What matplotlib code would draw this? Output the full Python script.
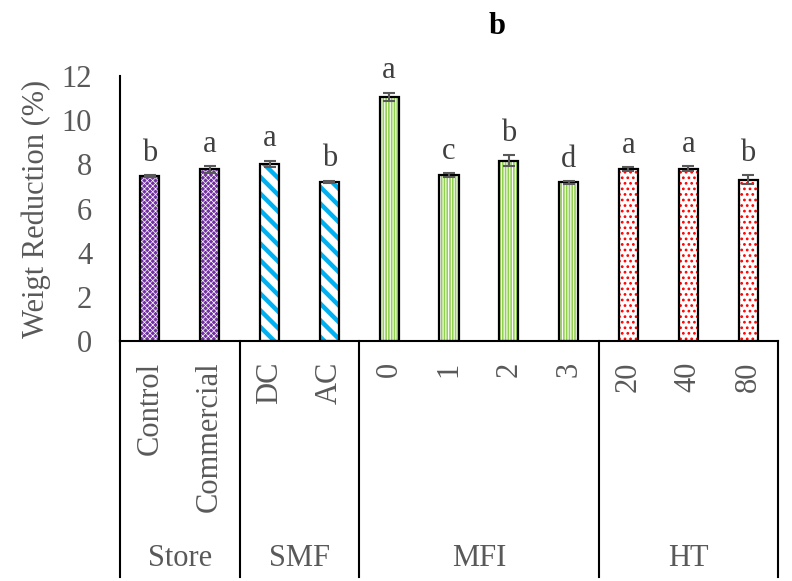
import matplotlib.pyplot as plt
import numpy as np

plt.rcParams['font.family'] = 'Liberation Serif'

# weight reduction per treatment, grouped by factor
groups = ["Store", "SMF", "MFI", "HT"]
group_sizes = [2, 2, 4, 3]
treatments = ["Control", "Commercial", "DC", "AC", "0", "1", "2", "3", "20", "40", "80"]
weight_loss = [7.47, 7.78, 8.02, 7.21, 11.05, 7.51, 8.16, 7.19, 7.78, 7.80, 7.30]
std_err = [0.05, 0.15, 0.15, 0.05, 0.20, 0.08, 0.25, 0.06, 0.08, 0.12, 0.20]
letters = ["b", "a", "a", "b", "a", "c", "b", "d", "a", "a", "b"]

# fill / hatch colour / hatch pattern / hatch width for each group
styles = [
    ("#7030A0", "white", "xxxxxx", 0.5),
    ("white", "#00B0F0", "\\\\", 3.2),
    ("#92D050", "white", "||||||", 0.8),
    ("white", "#FF0000", "...", 1.2),
]

grey = "#595959"
fig = plt.figure(figsize=(7.92, 5.81), dpi=100)
ax = fig.add_axes([120 / 792, 1 - 341 / 581, 658 / 792, 265 / 581])

x = np.arange(len(treatments))
width = 0.32
start = 0
for size, (face, hcol, hatch, hlw) in zip(group_sizes, styles):
    idx = x[start:start + size]
    vals = weight_loss[start:start + size]
    plt.rcParams['hatch.linewidth'] = hlw
    ax.bar(idx, vals, width, color=face, edgecolor=hcol, hatch=hatch, linewidth=0)
    ax.bar(idx, vals, width, color="none", edgecolor="black", linewidth=1.6)
    start += size

ax.errorbar(x, weight_loss, yerr=std_err, fmt="none", ecolor=grey,
            elinewidth=1.5, capsize=4, capthick=1.5)

for xi, v, e, lab in zip(x, weight_loss, std_err, letters):
    ax.text(xi, v + e + 0.65, lab, ha="center", va="baseline", fontsize=22, color="#404040")

ax.set_xlim(-0.5, len(treatments) - 0.5)
ax.set_ylim(0, 12)
ax.set_yticks(range(0, 13, 2))
ax.tick_params(axis="y", length=0, pad=20, labelsize=22, labelcolor=grey)
ax.set_xticks(x)
ax.set_xticklabels(treatments, rotation=90)
ax.tick_params(axis="x", length=0, pad=15, labelsize=22, labelcolor=grey)
ax.set_ylabel("Weigt Reduction (%)", fontsize=22, color=grey, labelpad=8)

for side in ["top", "right"]:
    ax.spines[side].set_visible(False)
ax.spines["left"].set_linewidth(1.5)
ax.spines["bottom"].set_linewidth(1.5)

# group dividers and group names under the axis
trans = ax.get_xaxis_transform()
bounds = np.concatenate([[0], np.cumsum(group_sizes)]) - 0.5
for b in bounds:
    ax.plot([b, b], [0, -0.89], color="black", linewidth=1.5, transform=trans, clip_on=False)
for name, lo, hi in zip(groups, bounds[:-1], bounds[1:]):
    ax.text((lo + hi) / 2, -0.82, name, ha="center", va="center", fontsize=22,
            color=grey, transform=trans)

fig.text(497 / 792, 1 - 27 / 581, "b", ha="center", va="center", fontsize=22,
         fontweight="bold", color="black")

fig.savefig("out.png", dpi=100)
